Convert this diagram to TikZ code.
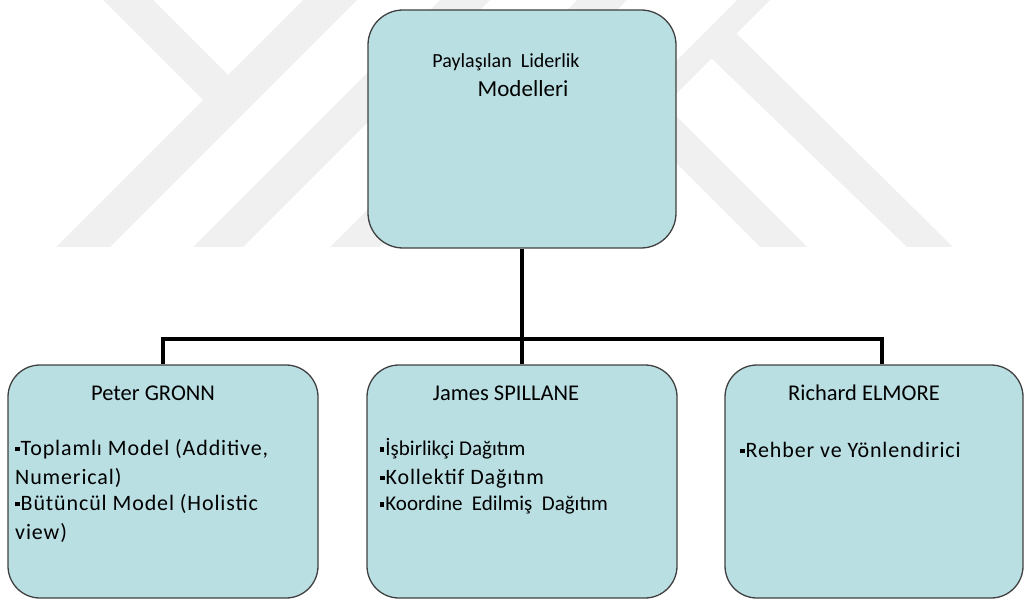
\documentclass[tikz,border=0pt]{standalone}
\usepackage{fontspec}
\setmainfont{Carlito}
\newfontfamily\spacedfont[LetterSpace=4]{Carlito}
\definecolor{boxfill}{RGB}{185,223,227}
\definecolor{boxline}{RGB}{64,64,64}
\definecolor{wmgray}{RGB}{240,240,240}
\newcommand\sqb{\rule[0.16em]{0.2em}{0.2em}\hspace{0.05em}}
\begin{document}
\begin{tikzpicture}[x=1pt,y=-1pt,
  box/.style={draw=boxline, line width=1.3pt, fill=boxfill, rounded corners=32pt, inner sep=0pt},
  link/.style={line width=3.8pt, black},
  head/.style={anchor=base, inner sep=0pt, font=\fontsize{22.5}{26}\selectfont},
  item/.style={anchor=base west, inner sep=0pt, font=\spacedfont\fontsize{22}{26}\selectfont},
  itemn/.style={anchor=base west, inner sep=0pt, font=\fontsize{21}{25}\selectfont},
  wmark/.style={fill=wmgray, draw=none}
]
\useasboundingbox (0,0) rectangle (1024,601);
% watermark
\fill[wmark] (103,0) -- (153,0) -- (228,75) -- (203,100) -- cycle;
\fill[wmark] (303,0) -- (357,0) -- (110,247) -- (56,247) -- cycle;
\fill[wmark] (440,0) -- (490,0) -- (243,247) -- (193,247) -- cycle;
\fill[wmark] (577,0) -- (627,0) -- (380,247) -- (330,247) -- cycle;
\fill[wmark] (737,0) -- (770,0) -- (665,105) -- (807,247) -- (760,247) -- (625,112) -- cycle;
\fill[wmark] (708,55) -- (733,30) -- (953,247) -- (907,247) -- cycle;
% boxes
\node[box, rounded corners=35pt, minimum width=308pt, minimum height=238pt] (top) at (522,129) {};
\node[box, minimum width=310pt, minimum height=233pt] (c1) at (163,481.5) {};
\node[box, minimum width=310pt, minimum height=233pt] (c2) at (522,481.5) {};
\node[box, minimum width=298pt, minimum height=233pt] (c3) at (874,481.5) {};
% connectors
\coordinate (d3) at ([xshift=8pt]c3.north);
\draw[link] (top.south) -- (c2.north);
\draw[link] (c1.north) -- ++(0,-25) -| (d3);
% texts
\node[head, font=\fontsize{20}{24}\selectfont] (t1) at (506,68) {Paylaşılan\ \ Liderlik};
\node[head, font=\fontsize{23}{27}\selectfont] (t2) at (523,97) {Modelleri};
\node[head] (h1) at (153,400) {Peter GRONN};
\node[item] (l1a) at (15,455) {\sqb Toplamlı Model (Additive,};
\node[item] (l1b) at (15,484) {Numerical)};
\node[item] (l1c) at (15,510) {\sqb Bütüncül Model (Holistic};
\node[item] (l1d) at (15,539) {view)};
\node[head] (h2) at (506,400) {James SPILLANE};
\node[itemn] (l2a) at (380,455) {\sqb İşbirlikçi Dağıtım};
\node[item] (l2b) at (380,484) {\sqb Kollektif Dağıtım};
\node[itemn] (l2c) at (380,510) {\sqb Koordine\ \ Edilmiş\ \ Dağıtım};
\node[head] (h3) at (864,400) {Richard ELMORE};
\node[item] (l3a) at (740,457) {\sqb Rehber ve Yönlendirici};
\end{tikzpicture}
\end{document}
